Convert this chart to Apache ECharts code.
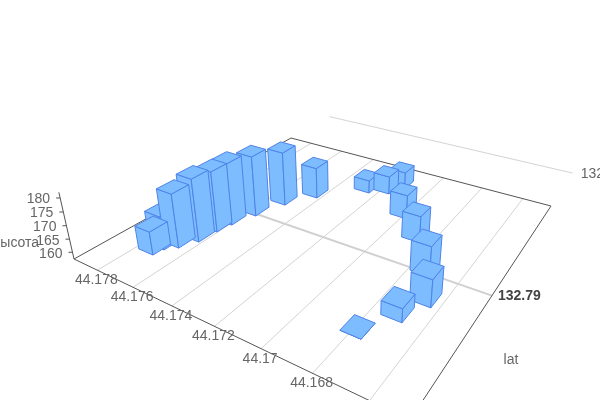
<!DOCTYPE html><html><head><meta charset="utf-8"><style>html,body{margin:0;background:#fff}#c{width:600px;height:400px}</style>
<script src="https://cdn.jsdelivr.net/npm/echarts@6/dist/echarts.min.js"></script></head><body><div id="c"></div><script>
// Data
const lat=[44.17740,44.17730,44.17690,44.17653,44.17643,44.17628,44.17590,44.17540,44.17455,44.17274,44.17190,44.17150,44.17016,44.16884,44.16749,44.16668,44.16717,44.16793];
const lon=[132.78638,132.78680,132.78715,132.78780,132.78864,132.78929,132.79027,132.79153,132.79267,132.79414,132.79450,132.79522,132.79312,132.79190,132.79026,132.78886,132.78780,132.78658];
const alt=[166.2,170.1,177.9,181.4,180.8,181.5,181.2,179.0,170.0,162.7,164.8,164.5,166.9,167.6,168.5,167.3,162.3,157.4];
const latTicks=[44.178,44.176,44.174,44.172,44.17,44.168,44.166];
const lonTicks=[132.79,132.8];
const altTicks=[160,165,170,175,180];
const latMax=44.1794,latMin=44.1647,lonMin=132.7844,lonMax=132.7966,altMin=157.4,altMax=182;
const barLat=0.00082,barLon=0.00080;

// Camera calibration: floor corners on screen and the vertical vanishing point
const Q=[[74,259],[410,420],[551,206],[291,138]],V=[348,1466],K=-0.002129;
function homo(q){const [a,b,c,d]=q;const dx1=b[0]-c[0],dx2=d[0]-c[0],sx=a[0]-b[0]+c[0]-d[0],dy1=b[1]-c[1],dy2=d[1]-c[1],sy=a[1]-b[1]+c[1]-d[1];const den=dx1*dy2-dx2*dy1;const g=(sx*dy2-dx2*sy)/den,h=(dx1*sy-sx*dy1)/den;return [[b[0]-a[0]+g*b[0],d[0]-a[0]+h*d[0],a[0]],[b[1]-a[1]+g*b[1],d[1]-a[1]+h*d[1],a[1]],[g,h,1]];}
const H=homo(Q);
function P(la,lo,z){const s=(latMax-la)/(latMax-latMin),t=(lo-lonMin)/(lonMax-lonMin),k=K*(z-altMin);
 const w=H[2][0]*s+H[2][1]*t+1+k;
 return [(H[0][0]*s+H[0][1]*t+H[0][2]+k*V[0])/w,(H[1][0]*s+H[1][1]*t+H[1][2]+k*V[1])/w];}

const FONT='Liberation Sans, Arial, sans-serif';
const lineColor='#555',gridColor='#d4d4d4',textColor='#666';
function line(a,b,stroke,lineWidth){return {type:'line',shape:{x1:a[0],y1:a[1],x2:b[0],y2:b[1]},style:{stroke,lineWidth,fill:null}};}
function text(x,y,t,align,opts){return {type:'text',x,y,style:Object.assign({text:t,textAlign:align,textVerticalAlign:'middle',font:'14px '+FONT,fill:textColor},opts||{})};}

function renderAxes(){
 const ch=[];
 latTicks.forEach(v=>ch.push(line(P(v,lonMin,altMin),P(v,lonMax,altMin),gridColor,1)));
 ch.push(line(P(latMin,lonTicks[0],altMin),P(latMax,lonTicks[0],altMin),'#d0d0d0',2));
 ch.push(line(P(latMin,lonTicks[1],altMin),P(latMax,lonTicks[1],altMin),gridColor,1));
 const A=P(latMax,lonMin,altMin),D=P(latMin,lonMin,altMin),C=P(latMin,lonMax,altMin),B=P(latMax,lonMax,altMin);
 ch.push(line(A,D,lineColor,1),line(D,C,lineColor,1),line(C,B,lineColor,1),line(B,A,lineColor,1));
 ch.push(line(A,P(latMax,lonMin,altMax),lineColor,1));
 altTicks.forEach(v=>{const p=P(latMax,lonMin,v);ch.push(line(p,[p[0]-4,p[1]],lineColor,1));ch.push(text(p[0]-10,p[1]+1.5,String(v),'right'));});
 latTicks.forEach(v=>{const p=P(v,lonMin,altMin);ch.push(text(p[0]-1,p[1]+10,String(v),'center'));});
 lonTicks.forEach((v,i)=>{const p=P(latMin,v,altMin);ch.push(text(p[0]+(i===0?6:8),p[1]+1,String(v),'left',i===0?{font:'bold 14px '+FONT,fill:'#444'}:{}));});
 ch.push(text(16,243,'высота','center'));
 ch.push(text(511,360,'lat','center'));
 return {type:'group',children:ch};
}
const order=lat.map((_,i)=>i).sort((a,b)=>{const k=i=>(latMax-lat[i])/(latMax-latMin)-0.8*(lon[i]-lonMin)/(lonMax-lonMin);return k(a)-k(b);});
const barData=order.map(i=>[lat[i],lon[i],alt[i]]);
const fill='#7DBCFF',edge='#4F83E8';
function poly(points){return {type:'polygon',shape:{points},style:{fill,stroke:edge,lineWidth:1,lineJoin:'round'}};}
function renderBar(params,api){
 const la=api.value(0),lo=api.value(1),z=api.value(2);
 const la0=la+barLat/2,la1=la-barLat/2,lo0=lo-barLon/2,lo1=lo+barLon/2;
 const b=(a,o)=>P(a,o,altMin),t=(a,o)=>P(a,o,z);
 return {type:'group',children:[
  poly([t(la0,lo0),t(la1,lo0),b(la1,lo0),b(la0,lo0)]),
  poly([t(la1,lo0),t(la1,lo1),b(la1,lo1),b(la1,lo0)]),
  poly([t(la0,lo0),t(la0,lo1),t(la1,lo1),t(la1,lo0)])
 ]};
}
const chart=echarts.init(document.getElementById('c'),null,{renderer:'canvas',width:600,height:400});
chart.setOption({animation:false,backgroundColor:'#fff',series:[
 {type:'custom',coordinateSystem:'none',silent:true,data:[[0]],renderItem:renderAxes,z:1},
 {type:'custom',coordinateSystem:'none',silent:true,data:barData,dimensions:['lat','lon','alt'],renderItem:renderBar,z:2}
]});
</script></body></html>
